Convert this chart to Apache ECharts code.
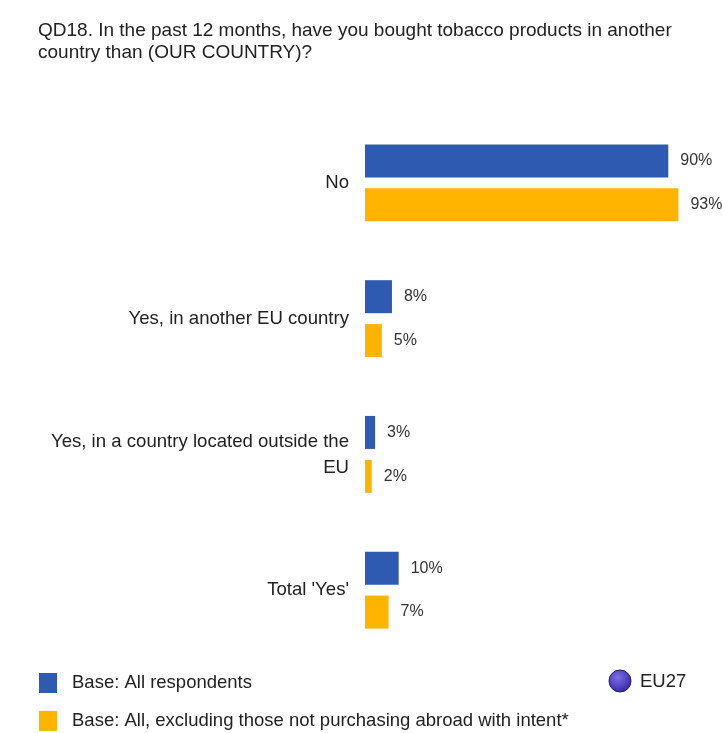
<!DOCTYPE html>
<html lang="en">
<head>
    <meta charset="UTF-8">
    <title>QD18</title>
    <script src="https://cdn.jsdelivr.net/npm/echarts@6/dist/echarts.min.js"></script>
    <style>
        html, body { margin: 0; padding: 0; background: #fff; }
    </style>
</head>
<body>
<div id="bar" style="width: 722px;height: 733px;"></div>
<script>
    var categories = ['No', 'Yes, in another EU country', 'Yes, in a country located outside the\nEU', 'Total \'Yes\''];
    var allRespondents = [90, 8, 3, 10];
    var excludingNotIntent = [93, 5, 2, 7];
    var seriesNames = ['Base: All respondents', 'Base: All, excluding those not purchasing abroad with intent*'];

    var font = '"Liberation Sans", Arial, sans-serif';

    var myChart = echarts.init(document.getElementById('bar'));
    var option = {
        backgroundColor: '#fff',
        animation: false,
        title: {
            text: 'QD18. In the past 12 months, have you bought tobacco products in another\ncountry than (OUR COUNTRY)?',
            left: 33,
            top: 15,
            textStyle: {
                fontFamily: font,
                fontSize: 19,
                fontWeight: 'normal',
                color: '#222',
                lineHeight: 22
            }
        },
        legend: {
            orient: 'vertical',
            left: 39,
            top: 673,
            padding: 0,
            itemWidth: 18,
            itemHeight: 20,
            itemGap: 18,
            icon: 'rect',
            textStyle: {
                fontFamily: font,
                fontSize: 18.5,
                color: '#222',
                padding: [0, 0, 0, 10]
            },
            data: seriesNames
        },
        grid: {
            left: 365,
            right: 20,
            top: 115,
            bottom: 75
        },
        xAxis: {
            type: 'value',
            min: 0,
            max: 100,
            show: false
        },
        yAxis: {
            type: 'category',
            inverse: true,
            data: categories,
            axisLine: { show: false },   //坐标轴线
            axisTick: { show: false },   //刻度线
            axisLabel: {
                margin: 16,
                fontFamily: font,
                fontSize: 18.6,
                lineHeight: 26,
                color: '#222',
                align: 'right'
            }
        },
        series: [{
            name: seriesNames[0],
            type: 'bar',
            barWidth: 33,
            barGap: '33%',
            itemStyle: { color: '#2f5ab2' },
            label: {
                show: true,
                position: 'right',
                distance: 12,
                formatter: '{c}%',
                fontFamily: font,
                fontSize: 16,
                color: '#333'
            },
            data: allRespondents
        }, {
            name: seriesNames[1],
            type: 'bar',
            barWidth: 33,
            itemStyle: { color: '#ffb400' },
            label: {
                show: true,
                position: 'right',
                distance: 12,
                formatter: '{c}%',
                fontFamily: font,
                fontSize: 16,
                color: '#333'
            },
            data: excludingNotIntent
        }],
        graphic: [{
            type: 'circle',
            shape: { cx: 620, cy: 681, r: 11 },
            style: {
                fill: {
                    type: 'radial', x: 0.4, y: 0.35, r: 0.7,
                    colorStops: [
                        { offset: 0, color: '#7f70e8' },
                        { offset: 1, color: '#3222a0' }
                    ]
                },
                stroke: '#231a78',
                lineWidth: 1
            }
        }, {
            type: 'text',
            x: 640,
            y: 682,
            style: {
                text: 'EU27',
                font: '18.5px ' + font,
                fill: '#222',
                verticalAlign: 'middle'
            }
        }]
    };
    myChart.setOption(option);
</script>
</body>
</html>
